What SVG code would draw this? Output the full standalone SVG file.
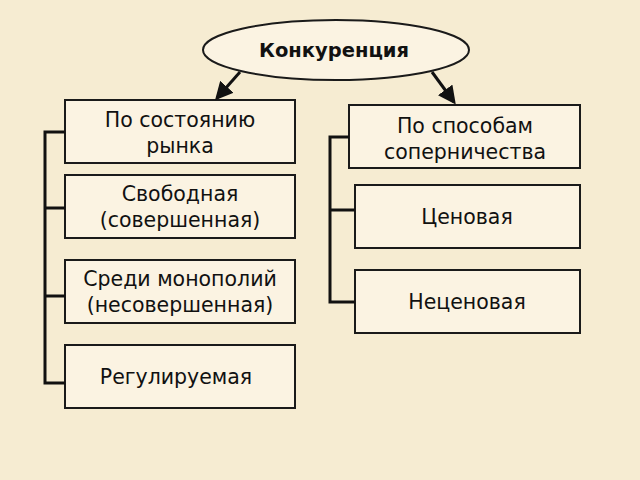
<svg xmlns="http://www.w3.org/2000/svg" width="640" height="480" viewBox="0 0 640 480">
<style>
.b{fill:#fbf3e2;stroke:#1a1a1a;stroke-width:2}
.t{font-family:"DejaVu Sans",sans-serif;font-size:20.5px;fill:#111;text-anchor:middle}
.c{stroke:#111;stroke-width:3;fill:none}
</style>
<defs><marker id="a" markerWidth="6" markerHeight="6" refX="5" refY="3" orient="auto" markerUnits="strokeWidth"><path d="M0,0L6,3L0,6z" fill="#111"/></marker></defs>
<rect width="640" height="480" fill="#f6ecd2"/>
<g id="root"><ellipse cx="336" cy="50" rx="133" ry="30" class="b"/><text x="334" y="57" class="t" style="font-weight:bold;font-size:19.5px">Конкуренция</text></g>
<g id="n1"><rect x="65" y="100" width="230" height="63" class="b"/><text x="180" y="127" class="t">По состоянию</text><text x="180" y="153" class="t">рынка</text></g>
<g id="n2"><rect x="65" y="175" width="230" height="63" class="b"/><text x="180" y="201" class="t">Свободная</text><text x="180" y="227" class="t">(совершенная)</text></g>
<g id="n3"><rect x="65" y="260" width="230" height="63" class="b"/><text x="180" y="286" class="t">Среди монополий</text><text x="180" y="312" class="t">(несовершенная)</text></g>
<g id="n4"><rect x="65" y="345" width="230" height="63" class="b"/><text x="176" y="384" class="t">Регулируемая</text></g>
<g id="n5"><rect x="349" y="105" width="231" height="63" class="b"/><text x="465" y="133" class="t">По способам</text><text x="465" y="159" class="t">соперничества</text></g>
<g id="n6"><rect x="355" y="185" width="225" height="63" class="b"/><text x="467" y="224" class="t">Ценовая</text></g>
<g id="n7"><rect x="355" y="270" width="225" height="63" class="b"/><text x="467" y="309" class="t">Неценовая</text></g>
<g id="connectors">
<path class="c" d="M240,72L217,98" marker-end="url(#a)"/>
<path class="c" d="M432,72L454,102" marker-end="url(#a)"/>
<path class="c" d="M65,132H45V383H65M45,208H65M45,296H65"/>
<path class="c" d="M349,137H330V302H355M330,210H355"/>
</g>
</svg>
